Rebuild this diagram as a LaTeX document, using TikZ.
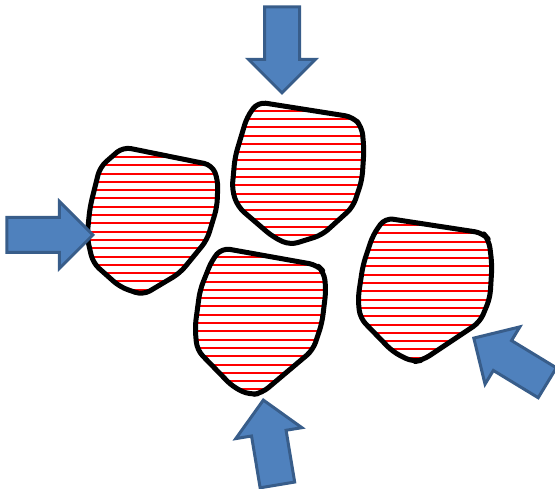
\documentclass[tikz,border=0pt]{standalone}
\usepackage{tikz}
\usetikzlibrary{arrows}
\usetikzlibrary{shapes.arrows}

\definecolor{pushfill}{HTML}{4F81BD}
\definecolor{pushdraw}{HTML}{385D8A}

% one grain: hatching clipped to the outline, then the outline
\newcommand{\grain}[2]{%
	\begin{scope}
		\clip[rounded corners=8pt] #1;
		\foreach \k in {0,...,30}
			\draw[hatch] (0,#2+8.3*\k) -- (555,#2+8.3*\k);
	\end{scope}
	\draw[grainedge, rounded corners=8pt] #1;
}

\begin{document}
\begin{tikzpicture}[x=1pt, y=-1pt,
				   hatch/.style={red, line width=2pt},
				   grainedge/.style={black, line width=5pt, line join=round},
				   push/.style={single arrow, draw=pushdraw, fill=pushfill, line width=3pt,
				                minimum height=86pt, inner xsep=0pt, inner ysep=16pt,
				                single arrow head extend=16pt, single arrow head indent=0pt}]
\useasboundingbox (0,0) rectangle (555,489);

% grains
\grain{(123,147) -- (212,165) -- (218,180) -- (217,207) -- (207,240) -- (180,273) -- (143,295) -- (120,287) -- (93,263) -- (87,237) -- (90,207) -- (100,167) -- cycle}{157}
\grain{(258,102) -- (353,117) -- (362,127) -- (364,150) -- (362,180) -- (353,207) -- (322,235) -- (290,245) -- (273,237) -- (238,207) -- (232,190) -- (235,157) -- (247,117) -- cycle}{110.7}
\grain{(222,248) -- (317,265) -- (324,272) -- (326,290) -- (322,323) -- (313,350) -- (262,393) -- (250,395) -- (233,387) -- (197,350) -- (195,327) -- (200,290) -- (212,260) -- cycle}{256.7}
\grain{(385,218) -- (483,233) -- (489,240) -- (492,265) -- (490,298) -- (480,322) -- (423,360) -- (413,362) -- (393,352) -- (360,318) -- (358,298) -- (363,265) -- (373,235) -- cycle}{225}

% loads
\node[push, rotate=0, anchor=tip] (pushW) at (95,235) {};
\node[push, rotate=-90, anchor=tip] (pushN) at (282,95) {};
\node[push, rotate=99.4, anchor=tip] (pushS) at (263,398) {};
\node[push, rotate=148.7, anchor=tip] (pushE) at (472,337) {};
\end{tikzpicture}
\end{document}
